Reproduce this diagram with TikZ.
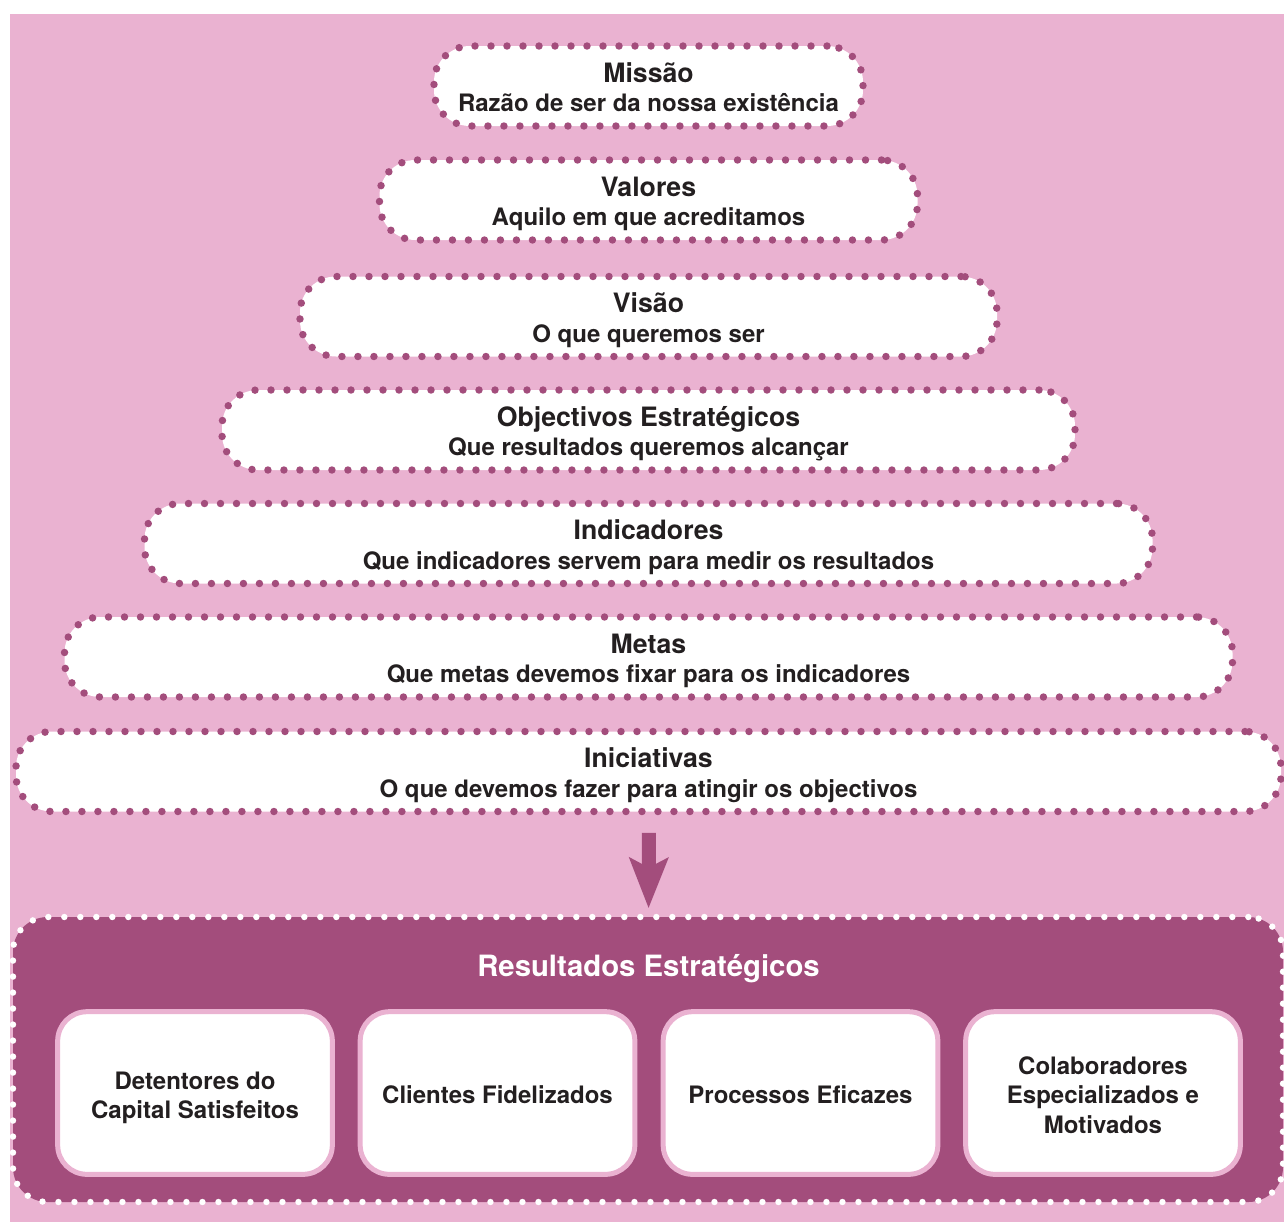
\documentclass[tikz,border=0pt]{standalone}
\usepackage{fontspec}
\setmainfont{TeX Gyre Heros}
\usetikzlibrary{arrows.meta}
\definecolor{bgpink}{HTML}{EAB2D1}
\definecolor{plum}{HTML}{A34D7C}
\definecolor{ink}{HTML}{231F20}
\tikzset{
  layer/.style={draw=plum, fill=white, line width=5.6pt,
    dash pattern=on 0pt off 12pt, line cap=round,
    rounded corners=27pt, minimum height=60pt, outer sep=0pt,
    inner sep=0pt, align=center, text=ink,
    font=\bfseries\fontsize{18}{22}\selectfont},
  panel/.style={draw=white, fill=plum, line width=4.8pt,
    dash pattern=on 0pt off 12pt, line cap=round,
    rounded corners=26pt, minimum width=952.5pt, minimum height=213.75pt,
    outer sep=0pt, inner sep=0pt},
  result/.style={draw=bgpink, fill=white, line width=3.75pt,
    rounded corners=22pt, minimum width=206pt, minimum height=122pt,
    align=center, text=ink, inner sep=0pt,
    font=\bfseries\fontsize{18}{22}\selectfont},
  bigarrow/.style={plum, line width=10.5pt,
    -{Stealth[length=37.5pt, width=28.5pt, inset=7pt]}},
}
% two-line layer label: heading and explanation, with fixed line struts
\newcommand{\layerlabel}[2]{\rule{0pt}{20.5pt}{\fontsize{20}{22}\selectfont #1}\\#2\rule[-4pt]{0pt}{4pt}}
% struts that give every result label the same vertical placement
\newcommand{\topstrut}{\rule{0pt}{20pt}}
\newcommand{\botstrut}{\rule[-4pt]{0pt}{4pt}}
\begin{document}
\begin{tikzpicture}[x=0.75pt, y=-0.75pt]
  \useasboundingbox (0,0) rectangle (1284,1222);
  \fill[bgpink] (10,14) rectangle (1284,1222);

  % strategy layers, narrowest at the top
  \node[layer, minimum width=321.75pt] (missao) at (648.5,86)
    {\layerlabel{Missão}{Razão de ser da nossa existência}};
  \node[layer, minimum width=403.5pt] (valores) at (648.5,200)
    {\layerlabel{Valores}{Aquilo em que acreditamos}};
  \node[layer, minimum width=522.75pt] (visao) at (648.5,316.5)
    {\layerlabel{Visão}{O que queremos ser}};
  \node[layer, minimum width=639.75pt] (objectivos) at (648.5,430)
    {\layerlabel{Objectivos Estratégicos}{Que resultados queremos alcançar}};
  \node[layer, minimum width=756pt] (indicadores) at (648.5,543.5)
    {\layerlabel{Indicadores}{Que indicadores servem para medir os resultados}};
  \node[layer, minimum width=876pt] (metas) at (648.5,657)
    {\layerlabel{Metas}{Que metas devemos fixar para os indicadores}};
  \node[layer, minimum width=948.75pt] (iniciativas) at (648.5,771.5)
    {\layerlabel{Iniciativas}{O que devemos fazer para atingir os objectivos}};

  % strategic results panel
  \node[panel] (resultados) at (648,1059.5) {};
  \node[text=white, font=\bfseries\fontsize{22}{26}\selectfont]
    (restitle) at (648.5,969) {Resultados Estratégicos};

  \node[result] (capital) at (195,1093)
    {\topstrut Detentores do\\Capital Satisfeitos\botstrut};
  \node[result] (clientes) at (497.5,1093)
    {\topstrut Clientes Fidelizados\botstrut};
  \node[result] (processos) at (800.5,1093)
    {\topstrut Processos Eficazes\botstrut};
  \node[result] (colab) at (1103,1093)
    {\topstrut Colaboradores\\Especializados e\\Motivados\botstrut};

  % arrow from the initiatives to the results
  \draw[bigarrow, shorten <=16pt, shorten >=6.5pt]
    ([xshift=0.4pt]iniciativas.south) -- ([xshift=0.4pt]resultados.north);
\end{tikzpicture}
\end{document}
